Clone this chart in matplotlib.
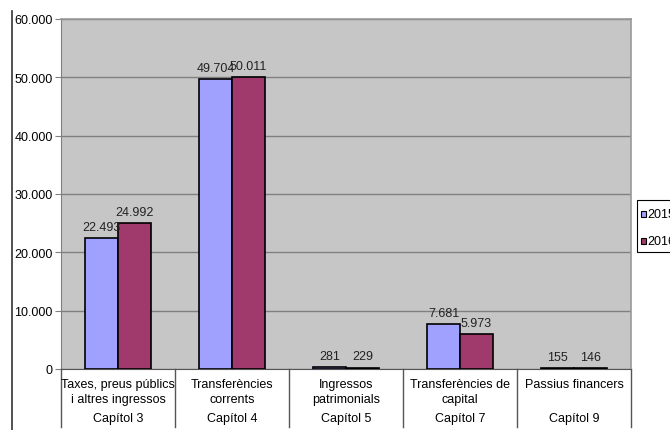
import matplotlib
matplotlib.use("Agg")
import matplotlib.pyplot as plt
from matplotlib.lines import Line2D
from matplotlib.patches import Rectangle
import numpy as np

plt.rcParams['font.family'] = ['Liberation Sans', 'DejaVu Sans']

concepts = ["Taxes, preus públics\ni altres ingressos", "Transferències\ncorrents",
            "Ingressos\npatrimonials", "Transferències de\ncapital", "Passius financers"]
chapters = ["Capítol 3", "Capítol 4", "Capítol 5", "Capítol 7", "Capítol 9"]
series_names = ["2015", "2016"]
values_2015 = [22493, 49704, 281, 7681, 155]
values_2016 = [24992, 50011, 229, 5973, 146]
yticks = [0, 10000, 20000, 30000, 40000, 50000, 60000]

def fmt(v):
    return f"{v:,.0f}".replace(",", ".")

W, H = 670, 431
fig = plt.figure(figsize=(W/100, H/100), dpi=100)
ax = fig.add_axes([61/W, (H-370)/H, 570/W, 350/H])
ax.set_facecolor("#C6C6C6")

n = len(concepts)
x = np.arange(n)
bw = 0.29
colors = ["#A0A0FF", "#A03A6C"]
ax.bar(x - bw/2, values_2015, bw, color=colors[0], edgecolor="black", linewidth=1.2, zorder=3)
ax.bar(x + bw/2, values_2016, bw, color=colors[1], edgecolor="black", linewidth=1.2, zorder=3)
for xi, v in zip(x - bw/2, values_2015):
    ax.text(xi, v + 900, fmt(v), ha="center", va="bottom", fontsize=9, color="#222222", zorder=4)
for xi, v in zip(x + bw/2, values_2016):
    ax.text(xi, v + 900, fmt(v), ha="center", va="bottom", fontsize=9, color="#222222", zorder=4)

ax.set_xlim(-0.5, n - 0.5)
ax.set_ylim(0, 60000)
ax.set_yticks(yticks)
ax.set_yticklabels([fmt(v) for v in yticks], fontsize=9)
ax.yaxis.grid(True, color="#808080", linewidth=1.0, zorder=1)
ax.set_axisbelow(True)
ax.set_xticks([])
ax.tick_params(axis="y", length=4, color="#808080", pad=2)
for s in ["top", "right"]:
    ax.spines[s].set_color("#999999")
    ax.spines[s].set_linewidth(1.2)
ax.spines["left"].set_color("#808080")
ax.spines["bottom"].set_color("#555555")

# category labels below axis
for i in range(n):
    ax.text(i, -0.027, concepts[i], transform=ax.get_xaxis_transform(), ha="center", va="top",
            fontsize=9, linespacing=1.3)
    ax.text(i, -0.122, chapters[i], transform=ax.get_xaxis_transform(), ha="center", va="top",
            fontsize=9)
for b in np.arange(-0.5, n + 0.5, 1.0):
    ax.plot([b, b], [0, -0.165], transform=ax.get_xaxis_transform(), color="#555555",
            linewidth=1.0, clip_on=False)

# left border line
fig.add_artist(Line2D([12/W, 12/W], [0, 1 - 12/H], transform=fig.transFigure, color="#333333", linewidth=1.2))

# legend drawn manually (clipped at right edge like the reference)
fig.add_artist(Rectangle((637/W, 1 - 253/H), 80/W, 52/H, transform=fig.transFigure,
                         facecolor="white", edgecolor="black", linewidth=0.8))
for k, (name, col) in enumerate(zip(series_names, colors)):
    yc = 215 + 27 * k
    fig.add_artist(Rectangle((641/W, 1 - (yc + 3)/H), 5/W, 6/H, transform=fig.transFigure,
                             facecolor=col, edgecolor="black", linewidth=0.8))
    fig.text(647/W, 1 - yc/H, name, ha="left", va="center", fontsize=9)

fig.savefig("out.png", dpi=100)
